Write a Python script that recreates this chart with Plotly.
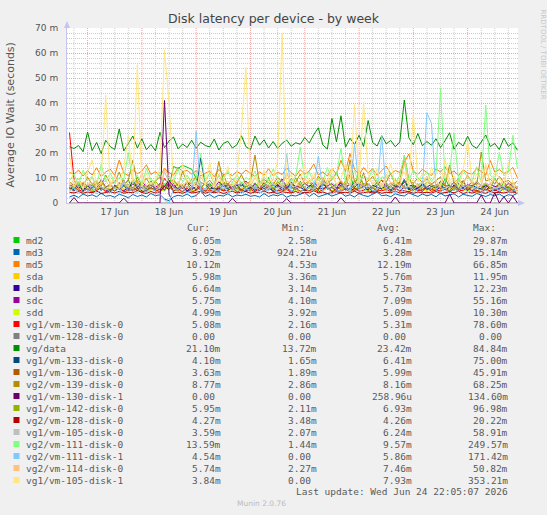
import plotly.graph_objects as go
import pandas as pd

W, H = 547, 515
L, R, T, B = 67, 29, 28, 312
BG = "#F0F0F0"
TXT = "#555555"
SANS = "DejaVu Sans"
MONO = "DejaVu Sans Mono"

# 2-hour samples, 16 Jun 16:00 -> 24 Jun 22:00
times = pd.date_range("2026-06-16 16:00", periods=100, freq="2h")

md2 = [6.2, 5.4, 7.8, 5.1, 6.6, 4.9, 8.3, 5.7, 6.1, 4.6, 7.2, 5.3, 6.8, 9.4, 5.0, 6.3, 7.7, 5.5, 8.9, 6.0,
       5.2, 7.4, 6.5, 14.6, 13.8, 15.1, 14.2, 13.5, 9.8, 6.4, 5.7, 7.9, 4.8, 6.2, 8.5, 5.6, 6.9, 5.1, 7.3, 6.0,
       4.7, 8.1, 5.8, 6.6, 10.2, 5.3, 6.7, 4.9, 7.5, 5.9, 6.3, 8.8, 5.2, 6.1, 7.0, 4.8, 9.1, 5.5, 6.4, 7.6,
       5.0, 6.8, 11.3, 5.7, 6.2, 7.9, 4.6, 6.5, 8.2, 5.4, 6.9, 5.1, 7.4, 6.0, 9.6, 5.3, 6.7, 4.9, 8.0, 5.8,
       6.3, 7.1, 5.2, 9.9, 6.4, 5.0, 7.6, 5.9, 6.6, 8.4, 4.8, 6.2, 7.3, 5.5, 6.9, 5.1, 8.6, 5.7, 6.4, 6.05]
md3 = [2.4, 3.1, 2.2, 3.6, 2.8, 3.3, 2.5, 3.9, 2.7, 3.0, 2.3, 3.5, 2.9, 2.1, 3.4, 2.6, 3.2, 2.4, 3.8, 2.9,
       3.3, 1.6, 0.9, 2.5, 3.1, 2.7, 3.6, 2.4, 3.0, 4.8, 2.6, 3.4, 2.2, 3.1, 2.8, 3.7, 2.5, 3.2, 2.9, 3.5,
       2.7, 3.0, 2.4, 3.8, 2.6, 3.3, 2.9, 3.6, 2.3, 3.1, 2.8, 3.4, 4.2, 2.6, 3.9, 2.5, 3.2, 3.7, 2.8, 3.5,
       4.1, 2.7, 3.3, 2.4, 3.8, 3.0, 2.6, 3.5, 4.4, 2.9, 3.2, 2.5, 3.7, 3.1, 2.8, 4.0, 3.3, 2.6, 3.6, 2.9,
       3.4, 2.5, 3.9, 2.8, 3.2, 3.7, 2.4, 3.5, 3.0, 2.7, 3.8, 3.1, 2.6, 3.4, 2.9, 3.6, 2.5, 3.3, 3.0, 3.92]
md5 = [12.3, 11.5, 13.2, 10.8, 12.9, 11.2, 14.1, 10.6, 12.4, 13.6, 11.0, 17.2, 12.1, 10.9, 13.4, 11.7, 12.8, 15.3, 11.4, 12.6,
       10.7, 13.8, 12.2, 11.1, 14.3, 12.5, 13.1, 11.6, 12.9, 10.8, 11.9, 12.7, 10.5, 13.5, 11.3, 12.0, 10.9, 12.6, 11.5, 13.2,
       11.8, 10.6, 12.5, 11.1, 13.7, 10.9, 12.3, 11.4, 14.0, 12.1, 10.7, 13.3, 11.6, 12.8, 15.6, 11.2, 12.4, 10.8, 13.9, 11.5,
       17.1, 12.6, 19.8, 13.4, 11.3, 14.2, 12.0, 13.7, 11.1, 12.9, 14.8, 11.6, 13.0, 12.2, 16.3, 19.6, 12.7, 11.4, 13.5, 12.1,
       11.0, 13.6, 12.4, 14.5, 11.7, 12.8, 10.9, 13.3, 12.0, 11.5, 13.9, 12.6, 11.2, 17.0, 12.3, 13.4, 11.8, 12.7, 14.2, 10.12]
sda = [5.4, 6.8, 4.9, 7.2, 5.1, 6.3, 4.6, 8.4, 5.7, 6.0, 4.8, 7.5, 5.3, 6.6, 4.4, 9.1, 5.9, 6.2, 5.0, 7.0,
       5.6, 4.7, 6.9, 5.2, 8.0, 5.8, 4.5, 6.4, 5.3, 7.7, 5.0, 6.1, 4.9, 6.8, 5.5, 4.6, 7.3, 5.7, 6.0, 5.1,
       6.5, 4.8, 7.9, 5.4, 6.2, 5.0, 8.6, 5.6, 4.7, 6.7, 5.2, 7.1, 4.9, 6.3, 5.8, 10.2, 5.3, 6.0, 4.6, 7.4,
       5.5, 6.9, 4.8, 6.1, 5.7, 7.8, 5.1, 6.4, 4.9, 6.6, 5.3, 8.1, 5.9, 4.7, 6.2, 5.4, 7.0, 5.6, 6.3, 5.0,
       6.8, 5.2, 4.9, 7.6, 5.5, 6.1, 5.8, 4.6, 6.9, 5.3, 7.2, 5.0, 6.4, 5.7, 4.8, 6.6, 5.1, 7.9, 5.4, 5.98]
sdb = [5.9, 4.8, 6.4, 5.2, 7.1, 4.6, 5.8, 6.3, 5.0, 4.4, 6.9, 5.5, 4.9, 6.1, 5.3, 7.6, 4.7, 5.6, 6.2, 5.1,
       4.5, 6.6, 5.4, 7.9, 5.0, 6.0, 4.8, 5.7, 6.5, 5.2, 4.6, 6.8, 5.3, 5.9, 4.9, 6.4, 5.5, 7.2, 5.1, 4.7,
       6.1, 5.6, 4.9, 6.7, 5.3, 5.8, 7.4, 5.0, 6.2, 4.6, 5.9, 6.5, 5.1, 4.8, 6.9, 5.4, 5.7, 6.3, 4.7, 5.5,
       8.2, 5.2, 6.0, 4.9, 5.8, 6.6, 5.0, 4.5, 6.3, 5.6, 7.0, 5.1, 5.9, 4.8, 6.4, 5.3, 6.1, 5.7, 4.6, 6.8,
       5.4, 5.0, 6.5, 5.8, 4.7, 7.3, 5.2, 6.0, 5.5, 4.9, 6.2, 5.7, 5.1, 6.7, 4.8, 5.9, 6.3, 5.3, 5.0, 6.64]
sdc = [6.8, 7.5, 6.1, 8.2, 6.6, 7.0, 5.9, 9.4, 6.4, 7.3, 6.0, 8.0, 6.9, 5.8, 7.7, 6.3, 8.6, 6.5, 7.1, 6.2,
       7.8, 6.4, 9.1, 6.7, 7.2, 5.9, 8.3, 6.6, 7.4, 6.1, 7.9, 6.8, 6.0, 8.5, 6.5, 7.1, 6.2, 7.6, 6.9, 8.8,
       6.3, 7.4, 6.0, 8.1, 6.7, 7.0, 6.4, 9.6, 6.2, 7.5, 6.8, 6.1, 7.9, 6.5, 8.4, 6.3, 7.2, 6.9, 7.7, 6.0,
       8.9, 6.6, 7.3, 6.2, 8.0, 6.8, 7.5, 6.1, 7.0, 9.2, 6.4, 7.8, 6.7, 6.3, 8.3, 6.9, 7.1, 6.0, 7.6, 6.5,
       7.4, 6.2, 8.7, 6.8, 7.0, 6.4, 7.9, 6.1, 7.3, 6.6, 8.2, 6.9, 6.3, 7.7, 6.5, 7.1, 6.0, 8.0, 6.7, 5.75]
sdd = [5.0, 4.6, 5.5, 4.3, 5.9, 4.8, 5.2, 6.4, 4.5, 5.1, 4.9, 5.7, 4.4, 5.3, 6.0, 4.7, 5.4, 4.2, 5.8, 5.0,
       4.6, 5.3, 6.8, 4.9, 5.1, 4.4, 5.6, 5.0, 4.7, 5.9, 4.3, 5.2, 5.5, 4.8, 6.2, 4.5, 5.0, 5.4, 4.6, 5.7,
       5.1, 4.4, 5.8, 4.9, 5.3, 6.5, 4.6, 5.0, 5.5, 4.2, 5.2, 4.8, 5.9, 4.5, 5.1, 5.6, 4.7, 6.1, 4.9, 5.3,
       4.4, 5.7, 5.0, 4.6, 6.3, 5.2, 4.8, 5.4, 4.5, 5.9, 5.1, 4.3, 5.6, 5.0, 7.2, 4.7, 5.3, 4.9, 5.5, 4.6,
       5.2, 4.8, 5.7, 4.4, 5.0, 6.0, 4.6, 5.3, 4.9, 5.5, 4.3, 5.8, 5.1, 4.7, 5.4, 6.6, 4.5, 5.2, 5.0, 4.99]
vm130_d0 = [28.2, 9.5, 5.3, 4.6, 5.8, 4.2, 5.0, 6.1, 4.5, 5.4, 4.8, 6.3, 4.4, 5.1, 4.9, 5.7, 4.3, 5.2, 6.0, 4.7,
            5.5, 9.8, 7.2, 4.9, 5.3, 4.6, 5.9, 4.4, 5.1, 6.6, 4.8, 5.2, 4.5, 5.6, 4.9, 5.0, 6.2, 4.3, 5.4, 4.7,
            5.3, 4.6, 5.8, 4.9, 6.4, 4.5, 5.1, 4.8, 5.5, 4.2, 6.0, 4.7, 5.2, 4.9, 5.7, 4.4, 5.3, 6.8, 4.6, 5.0,
            4.8, 5.6, 4.3, 5.9, 4.7, 5.1, 6.5, 4.5, 5.2, 4.9, 5.4, 4.6, 6.1, 4.8, 5.0, 4.4, 5.7, 4.9, 5.3, 6.2,
            4.6, 5.2, 4.8, 5.5, 4.3, 5.8, 4.9, 5.1, 6.3, 4.7, 5.0, 4.5, 5.6, 4.8, 5.3, 4.4, 5.9, 4.7, 5.2, 5.08]
vm128_d0 = [0.0, 0.0, 0.0, 0.0, 0.0, 0.0, 0.0, 0.0, 0.0, 0.0, 0.0, 0.0, 0.0, 0.0, 0.0, 0.0, 0.0, 0.0, 0.0, 0.0,
            0.0, 0.0, 0.0, 0.0, 0.0, 0.0, 0.0, 0.0, 0.0, 0.0, 0.0, 0.0, 0.0, 0.0, 0.0, 0.0, 0.0, 0.0, 0.0, 0.0,
            0.0, 0.0, 0.0, 0.0, 0.0, 0.0, 0.0, 0.0, 0.0, 0.0, 0.0, 0.0, 0.0, 0.0, 0.0, 0.0, 0.0, 0.0, 0.0, 0.0,
            0.0, 0.0, 0.0, 0.0, 0.0, 0.0, 0.0, 0.0, 0.0, 0.0, 0.0, 0.0, 0.0, 0.0, 0.0, 0.0, 0.0, 0.0, 0.0, 0.0,
            0.0, 0.0, 0.0, 0.0, 0.0, 0.0, 0.0, 0.0, 0.0, 0.0, 0.0, 0.0, 0.0, 0.0, 0.0, 0.0, 0.0, 0.0, 0.0, 0.0]
vg_data = [22.5, 21.8, 23.0, 20.5, 28.4, 21.0, 24.2, 19.8, 25.1, 22.6, 21.4, 29.6, 20.8, 23.9, 26.8, 22.0, 25.7, 21.3, 23.4, 20.9,
           28.3, 22.1, 24.8, 26.4, 21.7, 23.6, 22.2, 25.1, 21.9, 24.3, 23.0, 22.4, 25.6, 21.2, 23.8, 24.7, 22.0, 23.3, 26.9, 22.5,
           21.4, 26.8, 23.1, 25.3, 22.0, 24.6, 21.8, 23.9, 25.2, 22.7, 24.1, 23.5, 26.2, 24.0, 27.4, 30.1, 23.2, 21.6, 33.8, 24.5,
           34.9, 22.3, 25.9, 23.4, 27.1, 22.6, 33.0, 24.2, 22.8, 26.9, 23.7, 25.0, 22.5, 24.4, 41.2, 26.1, 23.3, 27.8, 22.9, 24.6,
           23.1, 25.7, 22.2, 24.9, 28.1, 21.5, 24.3, 22.8, 26.7, 23.0, 21.9, 24.4, 27.2, 22.6, 23.8, 21.4, 26.0, 22.7, 24.1, 21.1]
vm133_d0 = [6.1, 5.4, 7.3, 4.8, 6.6, 5.9, 8.0, 5.2, 6.4, 4.9, 7.1, 5.6, 6.8, 5.0, 9.2, 5.8, 6.3, 4.7, 7.6, 5.5,
            6.9, 5.1, 8.4, 6.2, 5.7, 7.0, 4.9, 6.5, 5.3, 18.1, 7.4, 5.6, 6.0, 4.8, 7.7, 5.4, 6.6, 5.9, 8.1, 5.2,
            6.3, 5.0, 7.5, 5.7, 6.8, 4.6, 7.2, 6.1, 5.5, 8.6, 5.8, 6.4, 5.1, 7.0, 6.7, 5.3, 7.9, 5.6, 6.2, 4.9,
            7.3, 6.0, 5.4, 8.8, 5.9, 6.5, 5.2, 7.1, 6.3, 5.7, 7.8, 5.0, 6.6, 6.1, 9.0, 5.5, 6.9, 5.8, 7.4, 5.3,
            6.7, 5.9, 7.6, 5.2, 6.4, 8.3, 5.7, 6.2, 5.0, 7.2, 6.0, 5.6, 7.0, 6.5, 5.3, 7.5, 5.8, 6.3, 5.1, 4.10]
vm136_d0 = [5.6, 6.9, 4.8, 7.4, 5.3, 6.1, 8.2, 5.0, 6.5, 4.7, 7.0, 5.8, 9.3, 5.2, 6.3, 4.9, 7.6, 5.5, 6.0, 5.1,
            7.8, 5.4, 6.7, 4.6, 6.2, 5.9, 8.0, 5.1, 6.6, 5.7, 4.8, 7.2, 5.5, 6.4, 5.0, 7.9, 5.3, 6.1, 4.9, 6.8,
            5.7, 6.3, 5.0, 8.5, 5.4, 6.0, 4.7, 7.1, 5.9, 6.5, 5.2, 7.7, 5.6, 4.9, 6.8, 5.3, 10.4, 5.8, 6.2, 5.1,
            6.6, 5.5, 7.9, 5.0, 6.4, 12.1, 5.7, 6.1, 4.8, 7.3, 5.6, 6.9, 5.2, 8.4, 5.9, 6.3, 5.0, 7.0, 5.4, 6.7,
            5.3, 7.5, 5.8, 6.2, 4.9, 6.8, 5.5, 9.0, 5.1, 6.4, 5.7, 7.2, 5.0, 6.0, 5.6, 8.1, 5.3, 6.5, 4.8, 3.63]
vm139_d0 = [8.4, 7.1, 9.6, 6.8, 10.3, 7.5, 8.9, 6.6, 11.2, 7.9, 8.2, 12.4, 7.3, 9.0, 17.1, 8.0, 7.4, 9.8, 6.9, 8.6,
            10.5, 7.2, 8.1, 9.3, 7.0, 12.6, 8.4, 7.7, 10.9, 8.2, 7.5, 9.1, 6.8, 16.6, 8.3, 7.6, 9.5, 8.0, 11.3, 7.4,
            8.7, 19.2, 7.8, 9.4, 8.1, 7.3, 10.2, 8.5, 7.0, 9.7, 8.3, 11.6, 7.6, 8.9, 7.2, 10.8, 8.4, 7.9, 9.3, 12.1,
            8.0, 7.4, 17.3, 8.6, 9.9, 7.5, 8.8, 10.7, 7.7, 9.2, 8.3, 11.9, 7.1, 8.5, 19.0, 9.4, 7.8, 10.1, 8.2, 9.6,
            7.6, 8.9, 10.4, 7.3, 15.2, 8.1, 9.7, 7.9, 11.0, 8.4, 7.2, 20.4, 8.8, 9.5, 7.7, 10.6, 8.3, 9.0, 7.5, 8.77]
vm130_d1 = [0.0, 2.2, 0.0, 0.0, 0.0, 0.0, 0.0, 0.0, 0.0, 0.0, 0.0, 0.0, 1.9, 0.0, 0.0, 0.0, 0.0, 0.0, 0.0, 0.0,
            0.0, 41.0, 3.5, 0.0, 0.0, 0.0, 0.0, 0.0, 0.0, 0.0, 0.0, 0.0, 0.0, 0.0, 0.0, 0.0, 1.8, 0.0, 0.0, 0.0,
            0.0, 0.0, 0.0, 0.0, 0.0, 0.0, 0.0, 0.0, 1.7, 0.0, 0.0, 0.0, 0.0, 0.0, 0.0, 0.0, 0.0, 0.0, 0.0, 0.0,
            2.1, 0.0, 0.0, 0.0, 0.0, 0.0, 0.0, 0.0, 0.0, 0.0, 0.0, 0.0, 2.4, 0.0, 0.0, 0.0, 0.0, 0.0, 0.0, 0.0,
            0.0, 0.0, 0.0, 0.0, 3.6, 0.0, 0.0, 0.0, 0.0, 0.0, 0.0, 3.2, 0.0, 0.0, 4.1, 0.0, 2.5, 0.0, 2.8, 0.0]
vm142_d0 = [7.2, 6.0, 8.5, 5.7, 6.9, 7.8, 5.4, 9.1, 6.3, 7.0, 5.9, 8.2, 6.6, 7.4, 5.5, 10.3, 6.8, 7.1, 6.2, 8.7,
            6.4, 7.6, 5.8, 8.9, 6.7, 7.3, 6.1, 9.5, 7.0, 5.6, 8.0, 6.5, 7.7, 6.2, 11.4, 6.9, 7.5, 5.9, 8.3, 6.6,
            7.4, 6.0, 9.0, 6.8, 7.2, 5.7, 8.6, 6.4, 7.9, 6.1, 10.1, 7.0, 6.3, 8.4, 5.8, 7.6, 6.7, 9.3, 6.5, 7.1,
            6.2, 8.8, 7.3, 6.6, 12.7, 6.9, 7.8, 5.9, 8.1, 6.4, 7.5, 6.0, 9.4, 7.2, 6.8, 10.6, 6.3, 7.7, 6.1, 8.5,
            7.0, 6.5, 8.2, 6.7, 7.4, 5.8, 9.2, 6.9, 7.1, 6.2, 8.9, 6.6, 7.6, 6.0, 10.0, 6.8, 7.3, 6.4, 8.0, 5.95]
vg2_vm128_d0 = [4.3, 4.0, 4.6, 3.9, 4.4, 4.1, 4.8, 3.8, 4.2, 4.5, 4.0, 4.7, 3.9, 4.3, 4.1, 5.0, 4.2, 3.8, 4.6, 4.0,
                4.4, 6.9, 9.2, 4.1, 4.3, 3.9, 4.6, 4.0, 4.2, 4.8, 3.9, 4.4, 4.1, 4.5, 3.8, 4.3, 4.7, 4.0, 4.2, 4.6,
                3.9, 4.4, 4.1, 4.8, 4.0, 4.3, 3.8, 4.5, 4.2, 4.0, 4.6, 3.9, 4.3, 4.1, 4.9, 4.0, 4.4, 3.8, 4.2, 4.5,
                4.1, 4.3, 4.0, 4.7, 3.9, 4.2, 4.4, 4.0, 4.6, 3.9, 4.3, 4.1, 4.8, 4.0, 4.2, 4.5, 3.9, 4.4, 4.1, 4.3,
                4.0, 4.6, 3.9, 4.2, 4.4, 4.1, 4.7, 3.8, 4.3, 4.0, 4.5, 4.2, 3.9, 4.6, 4.1, 4.3, 4.0, 4.4, 4.2, 4.27]
vm105_d0 = [6.0, 7.4, 5.3, 6.8, 5.6, 8.1, 5.9, 6.5, 5.1, 7.2, 6.3, 5.5, 9.0, 6.1, 5.8, 7.0, 6.6, 5.2, 7.7, 6.2,
            5.7, 12.5, 8.3, 6.0, 5.4, 7.1, 6.4, 5.9, 8.6, 6.7, 5.3, 6.9, 6.1, 7.5, 5.6, 6.3, 5.0, 7.8, 6.5, 5.8,
            6.9, 5.5, 7.3, 6.2, 5.7, 8.4, 6.0, 6.6, 5.2, 7.0, 6.4, 5.9, 7.6, 6.1, 5.6, 6.8, 9.3, 6.3, 5.8, 7.2,
            6.0, 6.7, 5.4, 8.0, 6.2, 5.9, 7.4, 6.5, 5.6, 6.9, 6.1, 7.9, 5.7, 6.4, 6.0, 7.1, 5.5, 6.8, 8.7, 6.3,
            5.9, 7.3, 6.2, 5.6, 6.6, 7.8, 6.0, 5.4, 7.0, 6.3, 5.8, 6.7, 8.2, 6.1, 5.7, 6.9, 6.4, 5.5, 7.2, 3.59]
vg2_vm111_d0 = [8.9, 11.6, 7.4, 13.2, 9.0, 10.7, 6.8, 15.4, 8.5, 12.1, 7.9, 10.3, 9.6, 20.1, 8.2, 11.0, 7.6, 13.8, 9.3, 8.7,
                12.4, 7.1, 10.6, 9.0, 13.5, 8.3, 11.2, 7.8, 9.9, 19.8, 8.6, 12.0, 7.3, 10.8, 9.4, 13.0, 8.1, 11.5, 7.7, 10.2,
                9.1, 12.8, 7.5, 10.4, 8.8, 13.6, 9.7, 7.2, 11.8, 8.4, 10.9, 22.3, 9.2, 12.5, 7.9, 10.1, 8.6, 14.2, 9.5, 11.3,
                21.9, 8.0, 10.7, 12.9, 7.6, 11.4, 9.3, 13.7, 8.2, 10.5, 9.8, 12.2, 7.4, 11.1, 18.9, 8.9, 13.3, 9.6, 10.0, 12.6,
                8.5, 11.7, 45.8, 9.4, 12.3, 27.9, 8.7, 13.1, 10.2, 9.0, 14.5, 8.3, 39.2, 11.0, 9.7, 20.3, 10.8, 12.7, 27.1, 13.59]
vg2_vm111_d1 = [4.8, 6.2, 3.9, 5.5, 4.4, 7.1, 3.7, 5.0, 6.6, 4.2, 5.8, 3.6, 8.4, 4.6, 5.3, 3.8, 6.9, 4.1, 5.6, 4.9,
                3.5, 1.2, 0.0, 5.9, 4.3, 6.4, 3.8, 5.2, 28.7, 4.5, 6.0, 3.9, 5.4, 4.7, 7.3, 4.0, 5.1, 6.3, 3.7, 5.7,
                4.4, 6.8, 3.9, 5.3, 4.8, 7.6, 4.1, 5.0, 19.7, 4.6, 5.9, 3.8, 6.5, 4.3, 5.5, 18.8, 4.9, 6.1, 3.6, 5.2,
                4.7, 6.4, 4.0, 23.8, 5.6, 4.2, 7.0, 4.8, 5.3, 26.9, 4.5, 6.2, 3.9, 5.8, 4.4, 7.4, 4.1, 5.5, 6.7, 36.1,
                31.8, 5.0, 4.3, 6.0, 3.8, 5.7, 4.6, 7.2, 4.0, 5.4, 6.6, 4.1, 5.1, 3.7, 6.3, 4.9, 5.8, 4.2, 5.3, 4.54]
vg2_vm114_d0 = [7.1, 9.3, 6.2, 8.5, 6.8, 10.4, 5.9, 7.7, 8.9, 6.4, 11.2, 7.0, 8.1, 6.5, 9.6, 7.3, 12.0, 6.7, 8.3, 7.5,
                6.1, 13.4, 10.8, 7.2, 8.6, 6.3, 9.1, 7.8, 6.6, 10.5, 7.4, 8.0, 6.9, 11.6, 7.1, 8.8, 6.0, 9.4, 7.6, 8.2,
                6.8, 10.1, 7.5, 8.4, 6.2, 9.7, 7.9, 6.6, 12.3, 7.3, 8.7, 6.4, 9.9, 7.8, 10.6, 6.9, 8.1, 7.2, 11.0, 7.6,
                9.0, 6.5, 13.1, 7.7, 8.3, 6.7, 10.2, 7.4, 8.9, 6.3, 11.4, 7.9, 8.5, 6.8, 15.9, 7.5, 9.3, 6.6, 8.2, 10.7,
                7.0, 8.8, 6.4, 12.5, 7.6, 9.5, 6.9, 8.0, 11.1, 7.3, 8.6, 6.5, 14.8, 7.8, 9.2, 6.7, 10.3, 7.4, 8.5, 5.74]
vm105_d1 = [19.6, 6.4, 9.8, 5.7, 12.5, 17.2, 6.9, 8.3, 43.1, 7.0, 10.6, 5.9, 14.2, 27.0, 8.8, 55.3, 6.6, 11.9, 7.4, 9.5,
            13.7, 61.2, 40.1, 8.0, 6.3, 15.8, 7.6, 10.2, 5.8, 12.9, 7.2, 16.4, 6.5, 9.3, 8.1, 14.6, 6.8, 11.0, 29.6, 54.2,
            7.9, 10.8, 6.2, 13.3, 8.5, 9.6, 16.9, 67.8, 7.3, 11.5, 6.7, 9.0, 15.1, 7.8, 12.2, 6.4, 10.4, 8.6, 14.0, 7.1,
            9.7, 16.0, 6.9, 39.4, 8.2, 40.3, 11.3, 7.5, 13.9, 6.0, 10.1, 15.5, 7.7, 9.4, 12.6, 6.6, 35.8, 8.4, 11.8, 7.0,
            14.4, 9.1, 6.8, 17.6, 8.7, 10.9, 6.3, 13.0, 24.8, 7.9, 11.6, 8.3, 15.7, 6.5, 12.4, 9.8, 7.2, 16.3, 8.0, 3.84]

names = ["md2", "md3", "md5", "sda", "sdb", "sdc", "sdd", "vg1/vm-130-disk-0", "vg1/vm-128-disk-0",
         "vg/data", "vg1/vm-133-disk-0", "vg1/vm-136-disk-0", "vg2/vm-139-disk-0", "vg1/vm-130-disk-1",
         "vg1/vm-142-disk-0", "vg2/vm-128-disk-0", "vg1/vm-105-disk-0", "vg2/vm-111-disk-0",
         "vg2/vm-111-disk-1", "vg2/vm-114-disk-0", "vg1/vm-105-disk-1"]
series = [md2, md3, md5, sda, sdb, sdc, sdd, vm130_d0, vm128_d0, vg_data, vm133_d0, vm136_d0, vm139_d0,
          vm130_d1, vm142_d0, vg2_vm128_d0, vm105_d0, vg2_vm111_d0, vg2_vm111_d1, vg2_vm114_d0, vm105_d1]
colors = ["#00CC00", "#0066B3", "#FF8000", "#FFCC00", "#330099", "#990099", "#CCFF00", "#FF0000",
          "#808080", "#008F00", "#00487D", "#B35A00", "#B38F00", "#6B006B", "#8FB300", "#B30000",
          "#BEBEBE", "#80FF80", "#80C9FF", "#FFC080", "#FFE680"]

cur = ["6.05m", "3.92m", "10.12m", "5.98m", "6.64m", "5.75m", "4.99m", "5.08m", "0.00", "21.10m", "4.10m",
       "3.63m", "8.77m", "0.00", "5.95m", "4.27m", "3.59m", "13.59m", "4.54m", "5.74m", "3.84m"]
mins = ["2.58m", "924.21u", "4.53m", "3.36m", "3.14m", "4.10m", "3.92m", "2.16m", "0.00", "13.72m", "1.65m",
        "1.89m", "2.86m", "0.00", "2.11m", "3.48m", "2.07m", "1.44m", "0.00", "2.27m", "0.00"]
avgs = ["6.41m", "3.28m", "12.19m", "5.76m", "5.73m", "7.09m", "5.09m", "5.31m", "0.00", "23.42m", "6.41m",
        "5.99m", "8.16m", "258.96u", "6.93m", "4.26m", "6.24m", "9.57m", "5.86m", "7.46m", "7.93m"]
maxs = ["29.87m", "15.14m", "66.85m", "11.95m", "12.23m", "55.16m", "10.30m", "78.60m", "0.00", "84.84m",
        "75.00m", "45.91m", "68.25m", "134.60m", "96.98m", "20.22m", "58.91m", "249.57m", "171.42m",
        "50.82m", "353.21m"]

yticks = [0, 10, 20, 30, 40, 50, 60, 70]
yticktext = ["0", "10 m", "20 m", "30 m", "40 m", "50 m", "60 m", "70 m"]

PW = W - L - R
PH = H - T - B


def px_x(px):
    return (px - L) / PW


def px_y(py):
    return (H - B - py) / PH


def note(px, py, text, font, xanchor="left", **kw):
    return dict(x=px_x(px), y=px_y(py), xref="paper", yref="paper", text=text,
                xanchor=xanchor, yanchor="middle", showarrow=False, font=font, **kw)


fig = go.Figure()
for name, ys, col in zip(names, series, colors):
    fig.add_trace(go.Scatter(x=times, y=ys, name=name, mode="lines",
                             line=dict(color=col, width=1), hoverinfo="skip"))

anns = []
shapes = []

MGRID = "rgb(236,165,165)"
GRID = "rgb(205,205,205)"

# red day lines at midnight, grey every 6 hours
for t in pd.date_range("2026-06-16 18:00", "2026-06-24 18:00", freq="6h"):
    shapes.append(dict(type="line", xref="x", yref="paper", x0=t, x1=t, y0=0, y1=1, layer="below",
                       line=dict(color=MGRID if t.hour == 0 else GRID, width=1, dash="1px,1px")))

# legend table under the plot
mono = dict(family=MONO, size=9.5, color="#5A5A5A")
cols_right = [223, 319, 414, 509.5]
for hx, h in zip([212, 307, 402, 497.5], ["Cur:", "Min:", "Avg:", "Max:"]):
    anns.append(note(hx, 227, h, mono, "right"))
for k, name in enumerate(names):
    ry = 240 + 12 * k
    shapes.append(dict(type="rect", xref="paper", yref="paper", x0=px_x(13.5), x1=px_x(19.5),
                       y0=px_y(ry + 3), y1=px_y(ry - 3), fillcolor=colors[k], line=dict(width=0)))
    anns.append(note(24, ry, name, mono))
    for cx, vals in zip(cols_right, [cur, mins, avgs, maxs]):
        v = vals[k]
        if v[-1] not in "mu":
            v = v + "\u00a0"
        anns.append(note(cx, ry, v, mono, "right"))

anns.append(note(510, 492, "Last update: Wed Jun 24 22:05:07 2026", mono, "right"))
anns.append(note(261, 503, "Munin 2.0.76", dict(family=SANS, size=7.5, color="#BBBBBB"), "center"))
anns.append(note(542.5, 54, "RRDTOOL / TOBI OETIKER", dict(family=SANS, size=7, color="#C8C8C8"),
                 "center", textangle=90))
anns.append(note(10, 115.5, "Average IO Wait (seconds)", dict(family=SANS, size=11, color=TXT),
                 "center", textangle=-90))

# axis arrows
ARROW = "#C4C4F0"
shapes.append(dict(type="path", xref="paper", yref="paper", xsizemode="pixel", ysizemode="pixel",
                   xanchor=0, yanchor=1, path="M -3,0 L 3,0 L 0,7 Z",
                   fillcolor=ARROW, line=dict(width=0)))
shapes.append(dict(type="path", xref="paper", yref="paper", xsizemode="pixel", ysizemode="pixel",
                   xanchor=1, yanchor=0, path="M 0,-3 L 0,3 L 7,0 Z",
                   fillcolor=ARROW, line=dict(width=0)))

fig.update_layout(
    width=W, height=H,
    margin=dict(l=L, r=R, t=T, b=B),
    paper_bgcolor=BG, plot_bgcolor="#FFFFFF",
    showlegend=False,
    title=dict(text="Disk latency per device - by week", xref="container", x=0.5, xanchor="center",
               yref="container", y=1 - 19 / H, yanchor="middle",
               font=dict(family=SANS, size=12.5, color="#444444")),
    xaxis=dict(type="date", range=["2026-06-16 14:54", "2026-06-24 22:15"],
               tick0="2026-06-17", dtick=86400000, ticklabelmode="period", tickformat="%d %b",
               ticks="", showgrid=False,
               showline=True, linecolor=ARROW, linewidth=1, zeroline=False,
               tickfont=dict(family=SANS, size=9, color=TXT)),
    yaxis=dict(range=[0, 70], tickvals=yticks, ticktext=yticktext, ticks="",
               ticklabelstandoff=6,
               showgrid=True, gridcolor=MGRID, griddash="1px,1px", gridwidth=1,
               minor=dict(dtick=2, showgrid=True, gridcolor=GRID, griddash="1px,1px"),
               showline=True, linecolor=ARROW, linewidth=1, zeroline=False,
               tickfont=dict(family=SANS, size=9, color=TXT)),
    annotations=anns,
    shapes=shapes,
)

fig.write_html("out.html", config={"displayModeBar": False},
               post_script="document.body.style.margin='0';")
